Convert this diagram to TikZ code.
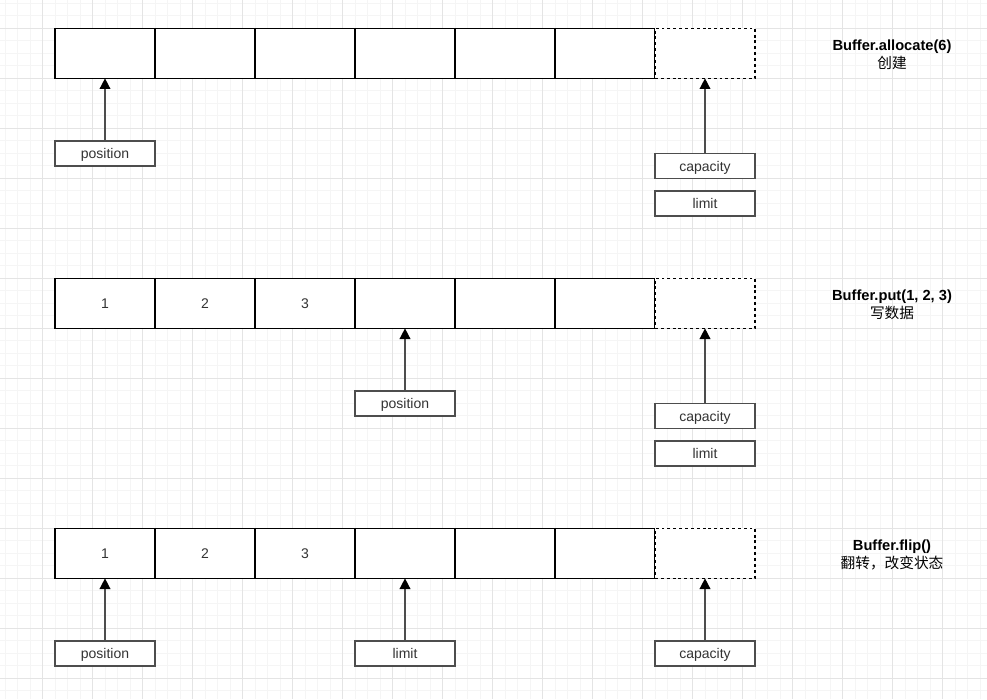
\documentclass[tikz,border=0pt]{standalone}
\usepackage{fontspec}
\setmainfont{Liberation Sans}
\newfontfamily\cjk{Noto Sans CJK SC}
\usetikzlibrary{arrows.meta}
\definecolor{minorgrid}{HTML}{F5F5F5}
\definecolor{majorgrid}{HTML}{E4E4E4}
\definecolor{boxline}{HTML}{4D4D4D}
\definecolor{txt}{HTML}{333333}
\begin{document}
\begin{tikzpicture}[x=0.75pt,y=-0.75pt,
  cell/.style={draw=black,line width=0.9pt,minimum width=75pt,minimum height=37.5pt,inner sep=0pt,outer sep=0pt,fill=white,text=txt,font=\fontsize{10.5}{12}\selectfont,text height=9.5pt,text depth=2pt},
  dcell/.style={cell,dashed,dash pattern=on 2.2pt off 2.2pt},
  lbl/.style={draw=boxline,line width=1.1pt,minimum width=75pt,minimum height=18.75pt,inner sep=0pt,outer sep=0pt,fill=white,text=txt,font=\fontsize{10.5}{12}\selectfont,text height=9.5pt,text depth=2pt},
  arr/.style={draw=boxline,line width=1.1pt,-{Triangle[length=8pt,width=8pt,color=black]}},
  title/.style={align=center,text=black,font=\fontsize{11}{13.5}\selectfont,inner sep=0pt}]
\useasboundingbox (0,0) rectangle (987,699);
\fill[white] (0,0) rectangle (987,699);
% grid
\foreach \i in {0,...,78} \draw[minorgrid,line width=0.75pt] ({5+12.5*\i},0) -- ++(0,699);
\foreach \i in {0,...,55} \draw[minorgrid,line width=0.75pt] (0,{3.33+12.5*\i}) -- ++(987,0);
\foreach \i in {0,...,18} \draw[majorgrid,line width=0.75pt] ({42.5+50*\i},0) -- ++(0,699);
\foreach \i in {0,...,13} \draw[majorgrid,line width=0.75pt] (0,{28.33+50*\i}) -- ++(987,0);
% row 1
\foreach \c in {1,...,6} \node[cell] (r1c\c) at ({5+100*\c},53.33) {};
\node[dcell] (r1c7) at (705,53.33) {};
% row 2
\node[cell] (r2c1) at (105,303.33) {1};
\node[cell] (r2c2) at (205,303.33) {2};
\node[cell] (r2c3) at (305,303.33) {3};
\foreach \c in {4,...,6} \node[cell] (r2c\c) at ({5+100*\c},303.33) {};
\node[dcell] (r2c7) at (705,303.33) {};
% row 3
\node[cell] (r3c1) at (105,553.33) {1};
\node[cell] (r3c2) at (205,553.33) {2};
\node[cell] (r3c3) at (305,553.33) {3};
\foreach \c in {4,...,6} \node[cell] (r3c\c) at ({5+100*\c},553.33) {};
\node[dcell] (r3c7) at (705,553.33) {};
% labels row 1
\node[lbl] (p1) at (105,153.5) {position};
\node[lbl] (cap1) at (705,166) {capacity};
\node[lbl] (lim1) at (705,203.5) {limit};
% labels row 2
\node[lbl] (p2) at (405,403.5) {position};
\node[lbl] (cap2) at (705,416) {capacity};
\node[lbl] (lim2) at (705,453.5) {limit};
% labels row 3
\node[lbl] (p3) at (105,653.5) {position};
\node[lbl] (lim3) at (405,653.5) {limit};
\node[lbl] (cap3) at (705,653.5) {capacity};
% arrows
\draw[arr] (p1) -- (r1c1);
\draw[arr] (cap1) -- (r1c7);
\draw[arr] (p2) -- (r2c4);
\draw[arr] (cap2) -- (r2c7);
\draw[arr] (p3) -- (r3c1);
\draw[arr] (lim3) -- (r3c4);
\draw[arr] (cap3) -- (r3c7);
% titles
\node[title] (t1) at (892,55) {\textbf{Buffer.allocate(6)}\\{\cjk 创建}};
\node[title] (t2) at (892,305) {\textbf{Buffer.put(1, 2, 3)}\\{\cjk 写数据}};
\node[title] (t3) at (892,555) {\textbf{Buffer.flip()}\\{\cjk 翻转，改变状态}};
\end{tikzpicture}
\end{document}
